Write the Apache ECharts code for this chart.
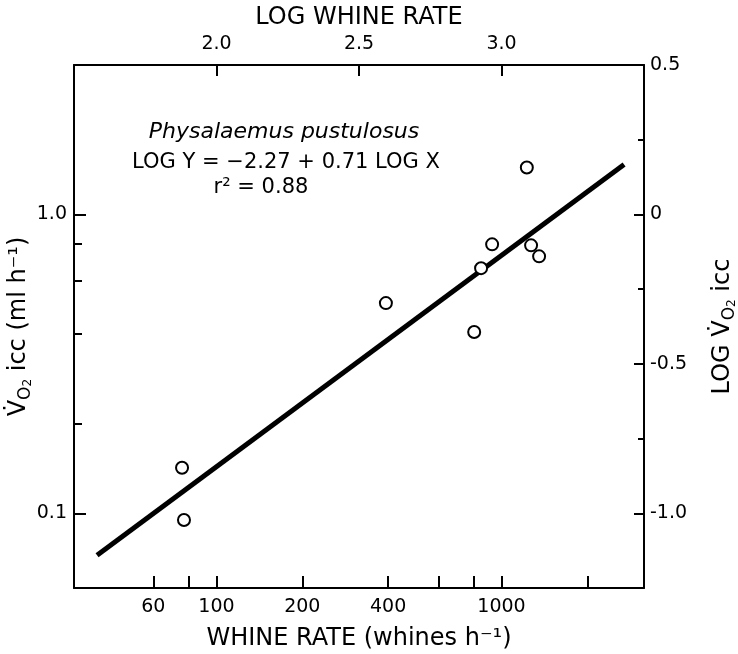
<!DOCTYPE html>
<html>
<head>
<meta charset="utf-8">
<script src="https://cdn.jsdelivr.net/npm/echarts@6/dist/echarts.min.js"></script>
<style>
  html, body { margin: 0; padding: 0; background: #fff; }
  #main { width: 738px; height: 654px; }
</style>
</head>
<body>
<div id="main"></div>
<script>
/** data */
var whineRate = [75.7, 76.9, 393, 802, 848, 927, 1227, 1270, 1355];
var vo2Icc = [0.142, 0.095, 0.505, 0.404, 0.661, 0.794, 1.435, 0.788, 0.724];

// regression line end points
var fitX = [38.1, 2692];
var fitY = [0.0724, 1.468];

// tick marks / labels
var bottomTicks = [60, 80, 100, 200, 400, 600, 800, 1000, 2000];
var bottomLabels = [60, 100, 200, 400, 1000];
var leftMajor = [0.1, 1.0];
var leftMinor = [0.2, 0.4, 0.6, 0.8];
var topLabels = [2.0, 2.5, 3.0];
var rightMajor = [0.5, 0, -0.5, -1.0];
var rightMinor = [0.25, -0.25, -0.75];

(function () {

    var FONT = 'DejaVu Sans';
    var X_LOG = [1.5, 3.5];
    var Y_LOG = [-1.25, 0.5];

    var log10 = function (arr) {
        return arr.map(function (v) { return Math.log10(v); });
    };

    var nameStyle = {
        color: '#000', fontFamily: FONT, fontSize: 24,
        rich: {
            v: { fontFamily: FONT, fontSize: 24, lineHeight: 30, color: '#000' },
            o: { fontFamily: FONT, fontSize: 17, verticalAlign: 'bottom', lineHeight: 17, color: '#000' },
            t: { fontFamily: FONT, fontSize: 12, verticalAlign: 'bottom', lineHeight: 12, color: '#000' }
        }
    };
    var line = { show: true, onZero: false, lineStyle: { color: '#000', width: 2 } };
    var noLine = { show: false, onZero: false };
    var tickLine = { color: '#000', width: 2 };

    function label(values, margin, fmt) {
        return {
            show: true, customValues: values, margin: margin, formatter: fmt,
            color: '#000', fontFamily: FONT, fontSize: 19
        };
    }

    // overlay axis in log units, only used for ticks / labels
    function overlay(pos, range, ticks, labels, len, fmt) {
        return {
            type: 'value', position: pos, min: range[0], max: range[1],
            axisLine: noLine, splitLine: { show: false },
            axisTick: { show: true, inside: true, length: len, customValues: ticks, lineStyle: tickLine },
            axisLabel: labels ? label(labels, pos === 'bottom' ? 10 : 7, fmt) : { show: false }
        };
    }

    var option = {
        animation: false,
        backgroundColor: '#fff',
        grid: { left: 74, right: 94, top: 65, bottom: 66, containLabel: false, outerBoundsMode: 'none' },
        xAxis: [
            {
                type: 'log', position: 'bottom',
                min: Math.pow(10, X_LOG[0]), max: Math.pow(10, X_LOG[1]),
                axisLine: line, axisTick: { show: false }, axisLabel: { show: false },
                splitLine: { show: false },
                name: 'WHINE RATE (whines h⁻¹)', nameLocation: 'middle', nameGap: 39,
                nameTextStyle: nameStyle
            },
            overlay('bottom', X_LOG, log10(bottomTicks), log10(bottomLabels), 12, function (v) {
                return String(Math.round(Math.pow(10, v)));
            }),
            {
                type: 'value', position: 'top', min: X_LOG[0], max: X_LOG[1],
                axisLine: line, splitLine: { show: false },
                axisTick: { show: true, inside: true, length: 11, customValues: topLabels, lineStyle: tickLine },
                axisLabel: label(topLabels, 11, function (v) { return v.toFixed(1); }),
                name: 'LOG WHINE RATE', nameLocation: 'middle', nameGap: 34,
                nameTextStyle: nameStyle
            }
        ],
        yAxis: [
            {
                type: 'log', position: 'left',
                min: Math.pow(10, Y_LOG[0]), max: Math.pow(10, Y_LOG[1]),
                axisLine: line, axisTick: { show: false }, axisLabel: { show: false },
                splitLine: { show: false },
                name: '{v|V̇}{o|O}{t|2}{v| icc (ml h⁻¹)}', nameLocation: 'middle', nameGap: 40,
                nameTextStyle: nameStyle
            },
            overlay('left', Y_LOG, log10(leftMajor), log10(leftMajor), 12, function (v) {
                return Math.pow(10, v).toFixed(1);
            }),
            overlay('left', Y_LOG, log10(leftMinor), null, 8),
            {
                type: 'value', position: 'right', min: Y_LOG[0], max: Y_LOG[1],
                axisLine: line, splitLine: { show: false },
                axisTick: { show: true, inside: true, length: 10, customValues: rightMajor, lineStyle: tickLine },
                axisLabel: label(rightMajor, 6, function (v) { return v === 0 ? '0' : v.toFixed(1); }),
                name: '{v|LOG V̇}{o|O}{t|2}{v| icc}', nameLocation: 'middle', nameGap: 64,
                nameTextStyle: nameStyle
            },
            overlay('right', Y_LOG, rightMinor, null, 6)
        ],
        graphic: [
            { type: 'text', x: 284, y: 132,
              style: { text: 'Physalaemus pustulosus', font: 'italic 22px "DejaVu Sans"',
                       fill: '#000', align: 'center', verticalAlign: 'middle' } },
            { type: 'text', x: 286, y: 163,
              style: { text: 'LOG Y = −2.27 + 0.71 LOG X', font: '21px "DejaVu Sans"',
                       fill: '#000', align: 'center', verticalAlign: 'middle' } },
            { type: 'text', x: 261, y: 188,
              style: { text: 'r² = 0.88', font: '21px "DejaVu Sans"',
                       fill: '#000', align: 'center', verticalAlign: 'middle' } }
        ],
        series: [
            {
                type: 'line', xAxisIndex: 0, yAxisIndex: 0, z: 2,
                showSymbol: false, silent: true,
                lineStyle: { color: '#000', width: 5 },
                data: fitX.map(function (x, i) { return [x, fitY[i]]; })
            },
            {
                type: 'scatter', xAxisIndex: 0, yAxisIndex: 0, z: 3,
                symbol: 'circle', symbolSize: 12,
                itemStyle: { color: '#fff', borderColor: '#000', borderWidth: 2, opacity: 1 },
                data: whineRate.map(function (x, i) { return [x, vo2Icc[i]]; })
            }
        ]
    };

    var myChart = echarts.init(document.getElementById('main'));
    myChart.setOption(option);
})();
</script>
</body>
</html>
